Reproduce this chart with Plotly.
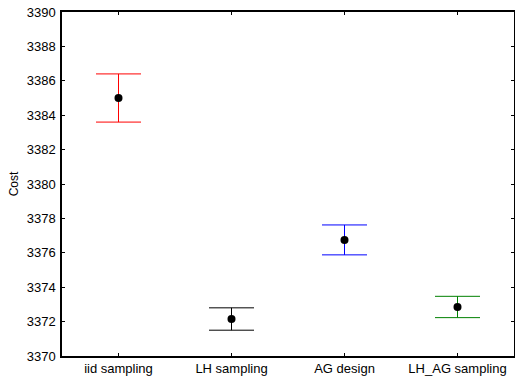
import plotly.graph_objects as go

categories = ["iid sampling", "LH sampling", "AG design", "LH_AG sampling"]
means = [3385.0, 3372.15, 3376.75, 3372.85]
err_upper = [1.4, 0.65, 0.87, 0.62]
err_lower = [1.4, 0.65, 0.87, 0.62]
y_ticks = [3370, 3372, 3374, 3376, 3378, 3380, 3382, 3384, 3386, 3388, 3390]

colors = ["#ff0000", "#000000", "#0000ff", "#008000"]

fig = go.Figure()
for i, cat in enumerate(categories):
    fig.add_trace(go.Scatter(
        x=[i], y=[means[i]], mode="markers",
        marker=dict(color="black", size=8),
        error_y=dict(type="data", symmetric=False,
                     array=[err_upper[i]], arrayminus=[err_lower[i]],
                     color=colors[i], thickness=1, width=22.5),
        showlegend=False, name=cat,
    ))

axis_common = dict(showline=True, linecolor="#000000", linewidth=1.5, mirror="ticks",
                   ticks="inside", ticklen=3, tickcolor="#000000", tickwidth=1, showgrid=False,
                   zeroline=False, tickfont=dict(family="Liberation Sans, Arial", size=13, color="black"))
fig.update_xaxes(range=[-0.5, 3.5], tickmode="array", tickvals=list(range(len(categories))),
                 ticktext=categories, **axis_common)
fig.update_yaxes(range=[3370, 3390], tickmode="array", tickvals=y_ticks,
                 ticktext=[str(v) for v in y_ticks], ticklabelstandoff=2,
                 title=dict(text="Cost", font=dict(family="Liberation Sans, Arial", size=12, color="black"), standoff=6),
                 **axis_common)
fig.update_layout(width=515, height=377, margin=dict(l=62, r=1, t=12, b=21, autoexpand=False),
                  plot_bgcolor="white", paper_bgcolor="white",
                  font=dict(family="Liberation Sans, Arial", size=13, color="black"))
fig.write_html("out.html", config={"displayModeBar": False},
               post_script="document.body.style.margin='0';document.body.style.padding='0';document.body.style.overflow='hidden';")
